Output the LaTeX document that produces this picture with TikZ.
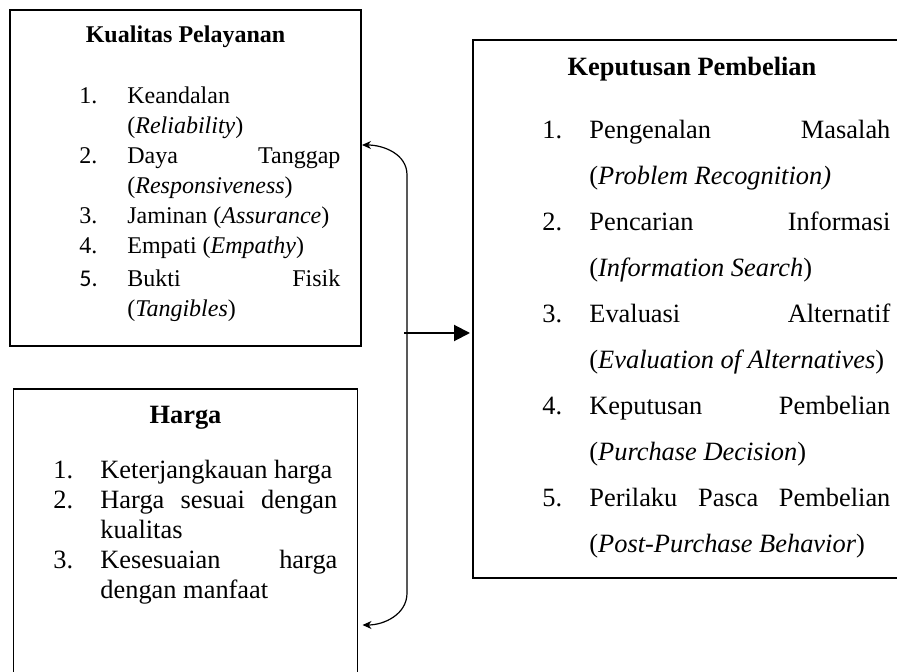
\documentclass[tikz,border=0pt]{standalone}
\usepackage{fontspec}
\setmainfont{Liberation Serif}
\setsansfont{Carlito}
\usetikzlibrary{positioning,arrows.meta,calc}

\newlength{\itmind}
\newcommand{\itm}[2]{\noindent\hangindent=\itmind\hangafter=1\strut\makebox[\itmind][l]{#1}#2\par}

\begin{document}
\begin{tikzpicture}[
  box/.style={rectangle, draw=black, line width=0.6pt, outer sep=0pt, inner sep=0pt},
  ttl/.style={font=\fontsize{#1}{#1}\selectfont\bfseries, inner sep=0pt, anchor=base},
  lst/.style={text width=#1, align=justify, inner sep=0pt, anchor=north west},
  link/.style={<->, >={Stealth[length=4.5pt,width=4pt]}, line width=0.6pt},
  flow/.style={-{Triangle[length=8pt,width=8pt]}, line width=1pt},
]
  \useasboundingbox (0,0) rectangle (448.5pt,-336pt);
  \clip (0,0) rectangle (448.5pt,-336pt);

  % Boxes
  \node[box, minimum width=175.5pt, minimum height=168pt, anchor=north west] (kp) at (5pt,-5pt) {};
  \node[box, minimum width=172pt, minimum height=170pt, below=21.5pt of kp] (hg) {};
  \node[box, minimum width=219pt, minimum height=269pt, below right=15pt and 56pt of kp.north east] (kpb) {};

  % Titles
  \node[ttl=12pt] (kpT) at ([yshift=-16.5pt]kp.north) {Kualitas Pelayanan};
  \node[ttl=13.2pt] (hgT) at ([yshift=-17pt]hg.north) {Harga};
  \node[ttl=13.2pt] (kpbT) at ([yshift=-18pt]kpb.north) {Keputusan Pembelian};

  % Indicator lists
  \node[lst=130.5pt, font=\fontsize{12pt}{15pt}\selectfont] (kpL) at ([xshift=34.5pt,yshift=-36pt]kp.north west) {%
    \setlength{\itmind}{24pt}%
    \itm{1.}{Keandalan\\(\textit{Reliability})}
    \itm{2.}{Daya Tanggap\linebreak(\textit{Responsiveness})}
    \itm{3.}{Jaminan (\textit{Assurance})}
    \itm{4.}{Empati (\textit{Empathy})}
    \vspace{1.5pt}
    \itm{\sffamily 5.}{Bukti Fisik\linebreak(\textit{Tangibles})}};
  \node[lst=142pt, font=\fontsize{13.2pt}{15pt}\selectfont] (hgL) at ([xshift=19.75pt,yshift=-34pt]hg.north west) {%
    \setlength{\itmind}{23.5pt}%
    \itm{1.}{Keterjangkauan harga}
    \itm{2.}{Harga sesuai dengan\linebreak kualitas}
    \itm{3.}{Kesesuaian harga\linebreak dengan manfaat}};
  \node[lst=174pt, font=\fontsize{13.2pt}{23pt}\selectfont] (kpbL) at ([xshift=34.5pt,yshift=-32.9pt]kpb.north west) {%
    \setlength{\itmind}{23.5pt}%
    \itm{1.}{Pengenalan Masalah\linebreak(\textit{Problem Recognition)}}
    \itm{2.}{Pencarian Informasi\linebreak(\textit{Information Search})}
    \itm{3.}{Evaluasi Alternatif\linebreak(\textit{Evaluation of Alternatives})}
    \itm{4.}{Keputusan Pembelian\linebreak(\textit{Purchase Decision})}
    \itm{5.}{Perilaku Pasca Pembelian\linebreak(\textit{Post-Purchase Behavior})}};

  % Arrows
  \coordinate (kpIn) at ([xshift=0.5pt,yshift=16.5pt]kp.east);
  \coordinate (hgIn) at ([xshift=2.5pt,yshift=-33pt]hg.east);
  \coordinate (bus) at ([xshift=-33pt,yshift=-12pt]kpb.west);
  \draw[link] (kpIn) to[out=0,in=90] ($(bus |- kpIn)+(0,-15pt)$) -- ($(bus |- hgIn)+(0,16pt)$) to[out=-90,in=0] (hgIn);
  \draw[flow, shorten >=1.5pt] ([xshift=-1.5pt]bus) -- (bus -| kpb.west);
\end{tikzpicture}
\end{document}
